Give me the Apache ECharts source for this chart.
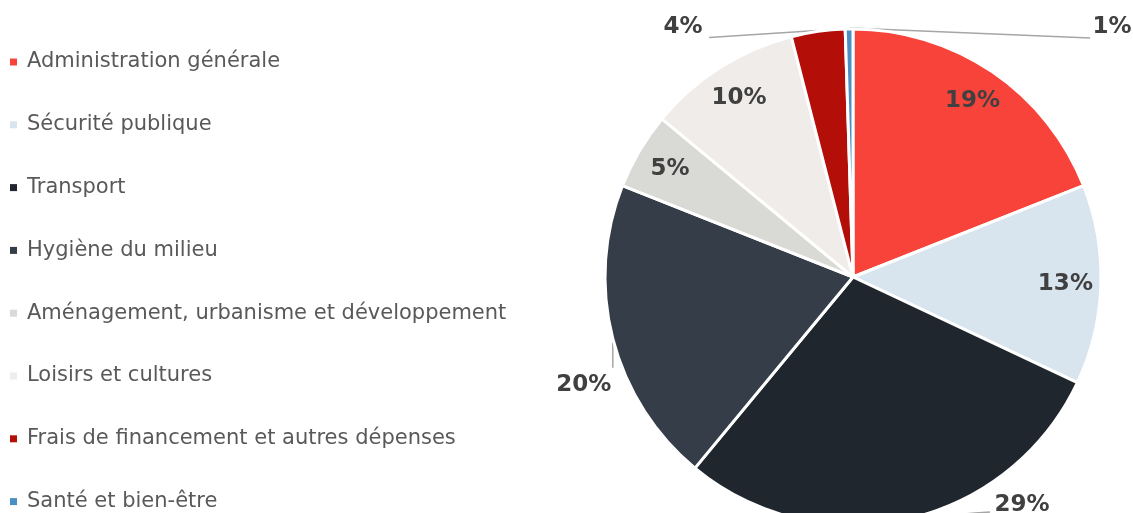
<!DOCTYPE html>
<html>
<head>
<meta charset="utf-8">
<script src="https://cdn.jsdelivr.net/npm/echarts@6/dist/echarts.min.js"></script>
<style>
  html, body { margin: 0; padding: 0; background: #ffffff; }
  #chart { width: 1133px; height: 513px; }
</style>
</head>
<body>
<div id="chart"></div>
<script>
// Budget breakdown by function (share of total, %)
const categories = [
  'Administration générale',
  'Sécurité publique',
  'Transport',
  'Hygiène du milieu',
  'Aménagement, urbanisme et développement',
  'Loisirs et cultures',
  'Frais de financement et autres dépenses',
  'Santé et bien-être'
];
const shares = [19, 13, 29, 20, 5, 10, 3.5, 0.5];

const sliceColors = ['#F8433B', '#D8E5EF', '#20262D', '#343D48', '#D9D9D6', '#EFECE9', '#B30F08', '#4C8FC2'];

// Slices whose percentage is printed inside the wedge
const insideLabelled = ['Administration générale', 'Sécurité publique', 'Aménagement, urbanisme et développement', 'Loisirs et cultures'];

// Leader lines for the outside labels, as offsets from the slice's outer arc midpoint
const leaders = {
  'Transport': { line: [[0, 0], [68, -6], [83, -7]], label: [115, -14] },
  'Hygiène du milieu': { line: [[0, 0], [0, 29]], label: [-29, 46] },
  'Frais de financement et autres dépenses': { line: [[-1, -1], [-109, 6]], label: [-135, -4] },
  'Santé et bien-être': { line: [[1, -1], [241, 9]], label: [263, -2] }
};

const FONT = 'DejaVu Sans';
const CENTER = [853, 277];
const RADIUS = 248;

const total = shares.reduce((a, b) => a + b, 0);
const pctText = p => Math.round(p.value / total * 100) + '%';

const labelStyle = {
  fontFamily: FONT,
  fontWeight: 'bold',
  fontSize: 23,
  color: '#404040'
};

const baseData = categories.map((name, i) => ({
  name,
  value: shares[i],
  itemStyle: { color: sliceColors[i] },
  label: { show: !insideLabelled.includes(name) }
}));

const ringData = categories.map((name, i) => ({
  name,
  value: shares[i],
  label: { show: insideLabelled.includes(name) }
}));

const chart = echarts.init(document.getElementById('chart'), null, { renderer: 'canvas' });

chart.setOption({
  animation: false,
  backgroundColor: '#ffffff',
  legend: {
    orient: 'vertical',
    left: 10,
    top: 50,
    height: 470,
    padding: 0,
    icon: 'rect',
    itemWidth: 7,
    itemHeight: 7,
    itemGap: 38.8,
    selectedMode: false,
    data: categories,
    itemStyle: { borderWidth: 0 },
    textStyle: {
      fontFamily: FONT,
      fontSize: 21,
      color: '#595959',
      lineHeight: 24,
      padding: [0, 0, 0, 5]
    }
  },
  series: [
    {
      // the pie itself, with leader-line labels for the outer slices
      type: 'pie',
      center: CENTER,
      radius: [0, RADIUS],
      startAngle: 90,
      clockwise: true,
      avoidLabelOverlap: false,
      silent: true,
      itemStyle: { borderColor: '#ffffff', borderWidth: 3 },
      label: Object.assign({ position: 'outside', formatter: pctText }, labelStyle),
      labelLine: {
        show: true,
        length: 10,
        length2: 10,
        lineStyle: { color: '#A6A6A6', width: 1.5 }
      },
      labelLayout: function (params) {
        const leader = leaders[categories[params.dataIndex]];
        const pts = params.labelLinePoints;
        if (!leader || !pts) return {};
        const [ex, ey] = pts[0];
        return {
          x: ex + leader.label[0],
          y: ey + leader.label[1],
          align: 'center',
          verticalAlign: 'middle',
          labelLinePoints: leader.line.map(([dx, dy]) => [ex + dx, ey + dy])
        };
      },
      data: baseData
    },
    {
      // transparent outer ring used only to place the in-slice percentages near the rim
      type: 'pie',
      center: CENTER,
      radius: [171, RADIUS],
      startAngle: 90,
      clockwise: true,
      silent: true,
      avoidLabelOverlap: false,
      itemStyle: { color: 'rgba(0,0,0,0)', borderWidth: 0 },
      label: Object.assign({ position: 'inside', formatter: pctText }, labelStyle),
      labelLine: { show: false },
      data: ringData
    }
  ]
});
</script>
</body>
</html>
